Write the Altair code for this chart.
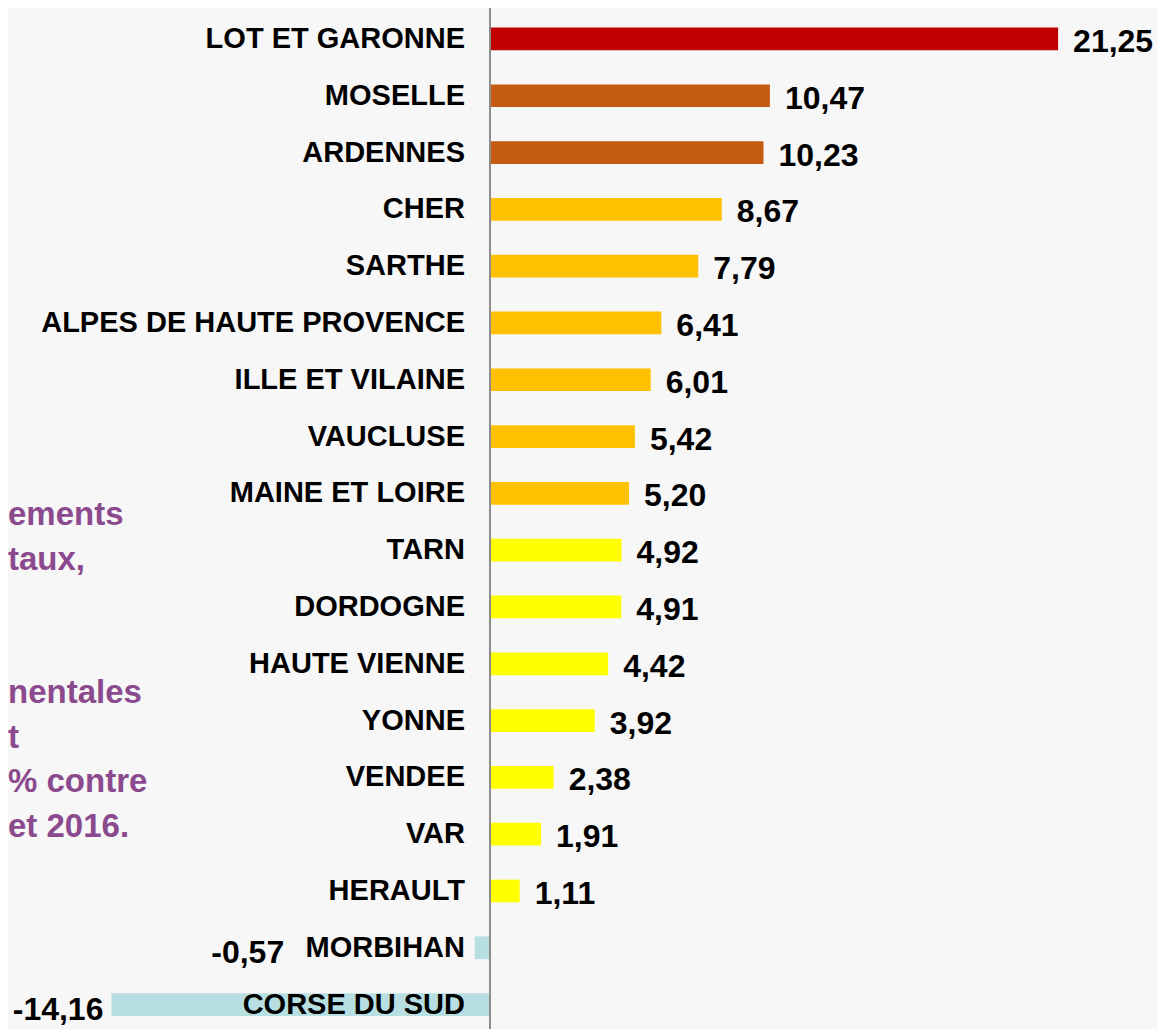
import altair as alt
import pandas as pd

categories = ["LOT ET GARONNE", "MOSELLE", "ARDENNES", "CHER", "SARTHE",
              "ALPES DE HAUTE PROVENCE", "ILLE ET VILAINE", "VAUCLUSE",
              "MAINE ET LOIRE", "TARN", "DORDOGNE", "HAUTE VIENNE", "YONNE",
              "VENDEE", "VAR", "HERAULT", "MORBIHAN", "CORSE DU SUD"]
values = [21.25, 10.47, 10.23, 8.67, 7.79, 6.41, 6.01, 5.42, 5.20, 4.92,
          4.91, 4.42, 3.92, 2.38, 1.91, 1.11, -0.57, -14.16]
groups = ["g1", "g2", "g2", "g3", "g3", "g3", "g3", "g3", "g3", "g4",
          "g4", "g4", "g4", "g4", "g4", "g4", "g5", "g5"]
group_names = ["g1", "g2", "g3", "g4", "g5"]
group_colors = ["#C00000", "#C55A11", "#FFC000", "#FFFF00", "#B7DFE2"]
note_lines_top = ["ements", "taux,"]
note_lines_bottom = ["nentales", "t", "% contre", "et 2016."]

labels = [f"{v:.2f}".replace(".", ",") for v in values]

df = pd.DataFrame({"cat": categories, "value": values, "grp": groups, "label": labels})

FONT = "Liberation Sans"
W, H = 1149, 1021

xscale = alt.Scale(domain=[-18.03, 24.95], nice=False, zero=False)
yscale = alt.Scale(paddingInner=0.6, paddingOuter=0.2875, align=0.6)

base = alt.Chart(df)
Y = alt.Y("cat:N", sort=categories, scale=yscale, axis=None)

bars = base.mark_bar().encode(
    x=alt.X("value:Q", scale=xscale, axis=None),
    y=Y,
    color=alt.Color("grp:N", scale=alt.Scale(domain=group_names, range=group_colors), legend=None),
)

zero_rule = base.mark_rule(color="#8c8c8c", strokeWidth=2).encode(x=alt.datum(0))

cat_labels = base.mark_text(align="right", baseline="middle", dx=-25, font=FONT,
                            fontSize=29, fontWeight="bold", color="#000000").encode(
    x=alt.datum(0), y=Y, text="cat:N")

pos_labels = base.transform_filter("datum.value >= 0").mark_text(
    align="left", baseline="middle", dx=15, dy=3, font=FONT, fontSize=32,
    fontWeight="bold", color="#000000").encode(
    x=alt.X("value:Q"), y=Y, text="label:N")

neg_labels = base.transform_filter("datum.value < 0").transform_calculate(
    anchor="min(datum.value, -7.4)").mark_text(
    align="right", baseline="middle", dx=-8, dy=5, font=FONT, fontSize=32,
    fontWeight="bold", color="#000000").encode(
    x=alt.X("anchor:Q"), y=Y, text="label:N")

note_style = dict(align="left", baseline="alphabetic", dx=0, font=FONT, fontSize=33,
                  fontWeight="bold", color="#8C4A8E", lineHeight=44.6)
one = pd.DataFrame({"k": [0]})
note_top = alt.Chart(one).mark_text(**note_style).encode(
    x=alt.value(0), y=alt.value(517), text=alt.value(note_lines_top))
note_bottom = alt.Chart(one).mark_text(**note_style).encode(
    x=alt.value(0), y=alt.value(695), text=alt.value(note_lines_bottom))

chart = alt.layer(note_top, note_bottom, bars, zero_rule, cat_labels, pos_labels, neg_labels).properties(
    width=W, height=H, padding=0,
    autosize=alt.AutoSizeParams(type="none"),
    background="#f7f7f7",
).configure_view(stroke=None)

chart.save("out.html", embed_options={"renderer": "svg", "actions": False})
